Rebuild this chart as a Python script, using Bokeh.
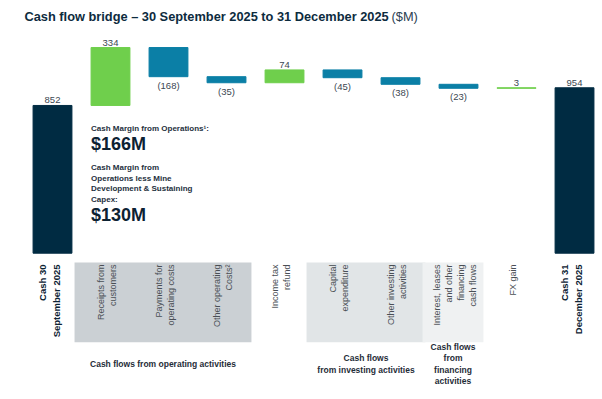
import numpy as np
from bokeh.plotting import figure
from bokeh.models import ColumnDataSource, Label
from bokeh.core.properties import value
from bokeh.embed import file_html
from bokeh.resources import INLINE

# ---------------- data ----------------
categories = [
    "Cash 30\nSeptember 2025",
    "Receipts from\ncustomers",
    "Payments for\noperating costs",
    "Other operating\nCosts\u00b2",
    "Income tax\nrefund",
    "Capital\nexpenditure",
    "Other investing\nactivities",
    "Interest, leases\nand other\nfinancing\ncash flows",
    "FX gain",
    "Cash 31\nDecember 2025",
]
values = [852, 334, -168, -35, 74, -45, -38, -23, 3, 954]
is_total = [True, False, False, False, False, False, False, False, False, True]

group_names = [
    "Cash flows from operating activities",
    "Cash flows\nfrom investing activities",
    "Cash flows\nfrom\nfinancing\nactivities",
]
group_first = [1, 5, 7]
group_last = [3, 6, 7]
group_fill = ["#cbd0d4", "#e1e5e7", "#eff1f2"]

title_bold = "Cash flow bridge \u2013 30 September 2025 to 31 December 2025"
title_unit = "($M)"

# ---------------- derived ----------------
NAVY = "#002b42"
GREEN = "#6fcf4c"
BLUE = "#0b7fa6"
FONT = "Liberation Sans"

x = np.arange(len(values))
bottoms, tops, colors, labels = [], [], [], []
running = 0
for v, tot in zip(values, is_total):
    if tot:
        b, t = 0, v
        running = v
        colors.append(NAVY)
    else:
        b, t = running, running + v
        running += v
        colors.append(GREEN if v > 0 else BLUE)
    bottoms.append(min(b, t))
    tops.append(max(b, t))
    labels.append(f"({abs(v)})" if v < 0 else f"{v}")

BW = 0.67
src = ColumnDataSource(dict(
    left=x - BW / 2, right=x + BW / 2, bottom=bottoms, top=tops, color=colors,
))

W, H = 600, 397
p = figure(width=W, height=H, x_range=(-0.8966, 9.448), y_range=(-832.2, 1457.3),
           output_backend="svg", toolbar_location=None, min_border=0,
           x_axis_location=None, y_axis_location=None)
p.grid.visible = False
p.outline_line_color = None
p.background_fill_color = "white"
p.border_fill_color = "white"

# group shading
gl = [f - 0.62 for f in group_first]
gr = [l + 0.43 for l in group_last]
p.quad(left=gl, right=gr, bottom=-513, top=-54, fill_color=group_fill, line_color=None)

# bars
p.quad(left="left", right="right", bottom="bottom", top="top", fill_color="color",
       line_color="color", line_width=1, source=src)

# value labels
pos_idx = [i for i, v in enumerate(values) if v >= 0]
neg_idx = [i for i, v in enumerate(values) if v < 0]
p.text(x=[x[i] for i in pos_idx], y=[tops[i] for i in pos_idx], text=[labels[i] for i in pos_idx],
       text_align="center", text_baseline="bottom", y_offset=-2,
       text_font=value(FONT), text_font_size="9.5px", text_color="#3b4752")
p.text(x=[x[i] for i in neg_idx], y=[bottoms[i] for i in neg_idx], text=[labels[i] for i in neg_idx],
       text_align="center", text_baseline="top", y_offset=3,
       text_font=value(FONT), text_font_size="9.5px", text_color="#3b4752")

# category labels (rotated)
tot_idx = [i for i in x if is_total[i]]
oth_idx = [i for i in x if not is_total[i]]
p.text(x=[x[i] for i in oth_idx], y=-65, text=[categories[i] for i in oth_idx], angle=np.pi / 2,
       text_align="right", text_baseline="middle", x_offset=-4,
       text_font=value(FONT), text_font_size="9px", text_color="#4a4f55", text_line_height=1.2)
p.text(x=[x[i] for i in tot_idx], y=-65, text=[categories[i] for i in tot_idx], angle=np.pi / 2,
       text_align="right", text_baseline="middle", x_offset=-3,
       text_font=value(FONT), text_font_size="9.5px", text_font_style="bold",
       text_color="#0d2233", text_line_height=1.2)

# group labels
gx = [(a + b) / 2 for a, b in zip(gl, gr)]
gy = [-640, -640, -640]
p.text(x=gx, y=gy, text=group_names, text_align="center", text_baseline="middle",
       text_font=value(FONT), text_font_size="8.5px", text_font_style="bold",
       text_color="#1f2d38", text_line_height=1.15)

# annotations
ax = 1 - BW / 2
p.text(x=[ax], y=[721], text=["Cash Margin from Operations\u00b9:"], text_baseline="middle",
       text_font=value(FONT), text_font_size="8px", text_font_style="bold", text_color="#1e3040")
p.text(x=[ax], y=[627], text=["$166M"], text_baseline="middle",
       text_font=value(FONT), text_font_size="18px", text_font_style="bold", text_color="#0d2233")
p.text(x=[ax], y=[402], text=["Cash Margin from\nOperations less Mine\nDevelopment & Sustaining\nCapex:"],
       text_baseline="middle", text_line_height=1.15,
       text_font=value(FONT), text_font_size="8px", text_font_style="bold", text_color="#1e3040")
p.text(x=[ax], y=[223], text=["$130M"], text_baseline="middle",
       text_font=value(FONT), text_font_size="18px", text_font_style="bold", text_color="#0d2233")

# title
p.add_layout(Label(x=24, y=H - 16, x_units="screen", y_units="screen", text=title_bold,
                   text_font=FONT, text_font_size="12.8px", text_font_style="bold",
                   text_color="#0d2b3e", text_baseline="middle"))
p.add_layout(Label(x=391, y=H - 16, x_units="screen", y_units="screen", text=title_unit,
                   text_font=FONT, text_font_size="12.8px", text_color="#2b4050",
                   text_baseline="middle"))

open("out.html", "w").write(file_html(p, INLINE))
